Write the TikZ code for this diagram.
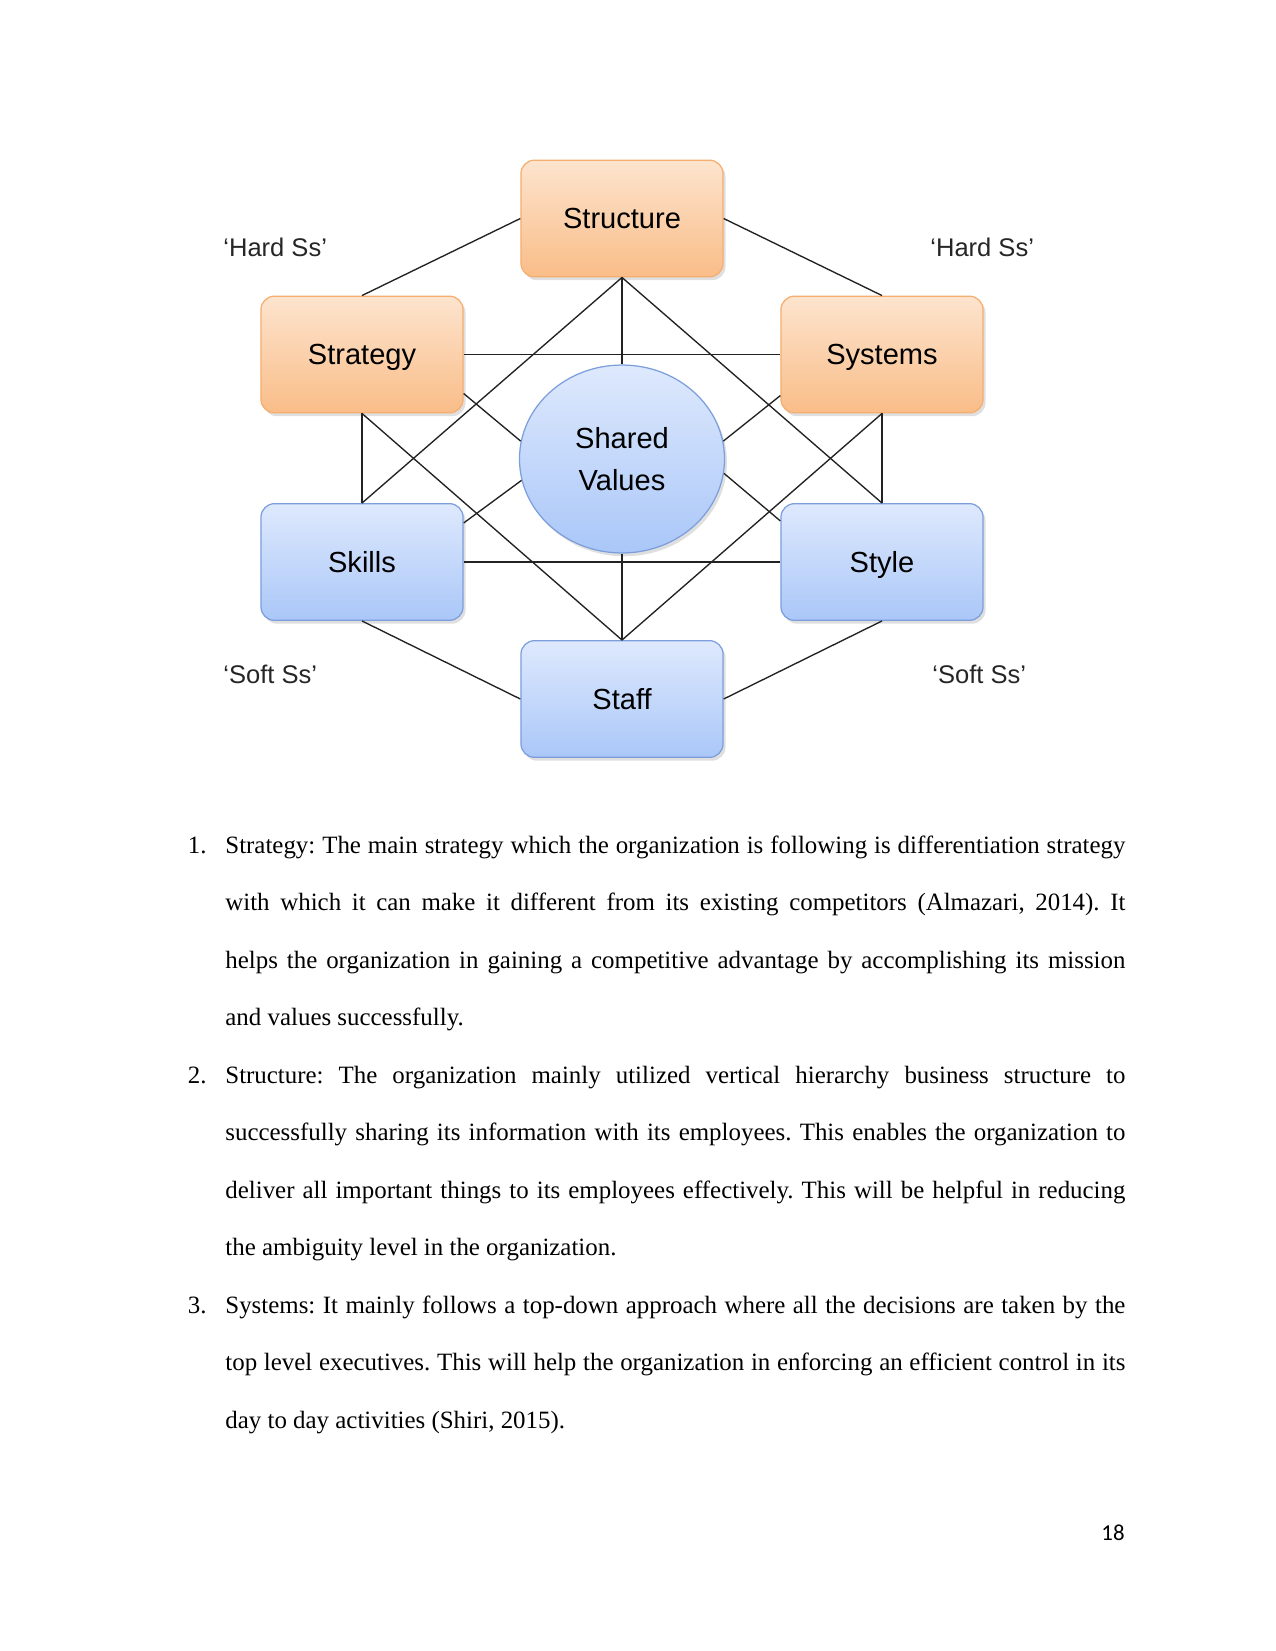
\documentclass[tikz,border=0pt]{standalone}
\usepackage{fontspec}
\setmainfont{Liberation Serif}
\newfontfamily\arialf{Liberation Sans}
\newfontfamily\calibrif{Carlito}
\usetikzlibrary{shapes.geometric,shadows}
\frenchspacing
\definecolor{orTop}{HTML}{FDE4CE}
\definecolor{orBot}{HTML}{F9BD88}
\definecolor{orLine}{HTML}{F5AE70}
\definecolor{blTop}{HTML}{DEE9FD}
\definecolor{blBot}{HTML}{AAC7F8}
\definecolor{blLine}{HTML}{7C9FDC}
\definecolor{lineC}{HTML}{222222}
\tikzset{
  box/.style={rectangle, rounded corners=6.5bp, minimum width=97bp, minimum height=56bp,
    inner sep=0pt, text depth=0pt, font=\arialf\fontsize{14}{16}\selectfont, text=black,
    line width=0.6pt, drop shadow={shadow xshift=1.2bp, shadow yshift=-1.6bp, opacity=0.25}},
  hardbox/.style={box, draw=orLine, top color=orTop, bottom color=orBot},
  softbox/.style={box, draw=blLine, top color=blTop, bottom color=blBot},
  valnode/.style={ellipse, minimum width=98.4bp, minimum height=90.2bp, inner sep=0pt,
    draw=blLine, line width=0.6pt, top color=blTop, bottom color=blBot, align=center,
    font=\arialf\fontsize{14}{20.6}\selectfont, text=black,
    drop shadow={shadow xshift=1.2bp, shadow yshift=-1.6bp, opacity=0.25}},
  grouplabel/.style={anchor=base west, inner sep=0pt, font=\arialf\fontsize{12.3}{14}\selectfont, text=black!85},
  link/.style={draw=lineC, line width=0.65pt},
  bodyline/.style={anchor=base west, inner sep=0pt, font=\fontsize{12}{14}\selectfont},
  numlabel/.style={anchor=base west, inner sep=0pt, font=\fontsize{12}{14}\selectfont}
}
\newcommand{\jline}[1]{\makebox[432bp][s]{#1}}
\begin{document}
\begin{tikzpicture}[x=0.48bp, y=-0.48bp]
\useasboundingbox[fill=white] (0,0) rectangle (1275,1651);

% nodes
\node[hardbox] (struct) at (622,218.5) {Structure};
\node[hardbox] (strat) at (362,354.5) {Strategy};
\node[hardbox] (sys) at (882,354.5) {Systems};
\node[softbox] (skills) at (362,562) {Skills};
\node[softbox] (style) at (882,562) {Style};
\node[softbox] (staff) at (622,699) {Staff};
\node[valnode] (sv) at (622,459) {Shared\\Values};

\node[grouplabel] (hl) at (223,256) {‘Hard Ss’};
\node[grouplabel] (hr) at (930,256) {‘Hard Ss’};
\node[grouplabel] (sl) at (223,683) {‘Soft Ss’};
\node[grouplabel] (sr) at (932,683) {‘Soft Ss’};

\draw[link] (strat.north) -- (struct.west);
\draw[link] (struct.east) -- (sys.north);
\draw[link] (skills.south) -- (staff.west);
\draw[link] (staff.east) -- (style.south);
\draw[link] (struct.south) -- (sv.north);
\draw[link] (sv.south) -- (staff.north);
\draw[link] (strat.east) -- (sys.west);
\draw[link] (skills.east) -- (style.west);
\draw[link] (strat.south) -- (skills.north);
\draw[link] (sys.south) -- (style.north);
\draw[link] (struct.south) -- (skills.north);
\draw[link] (struct.south) -- (style.north);
\draw[link] (strat.south) -- (staff.north);
\draw[link] (sys.south) -- (staff.north);
\draw[link] (strat.-21.8) -- (sv.170.6);
\draw[link] (sys.-158.2) -- (sv.10.5);
\draw[link] (skills.21.1) -- (sv.-168.4);
\draw[link] (style.158.9) -- (sv.-8.9);

% body text
\node[numlabel] (n1) at (187.5,853) {1.};
\node[bodyline] (l1) at (225,853) {\jline{Strategy: The main strategy which the organization is following is differentiation strategy}};
\node[bodyline] (l2) at (225,910.5) {\jline{with which it can make it different from its existing competitors (Almazari, 2014). It}};
\node[bodyline] (l3) at (225,968) {\jline{helps the organization in gaining a competitive advantage by accomplishing its mission}};
\node[bodyline] (l4) at (225,1025.5) {and values successfully.};
\node[numlabel] (n2) at (187.5,1083) {2.};
\node[bodyline] (l5) at (225,1083) {\jline{Structure: The organization mainly utilized vertical hierarchy business structure to}};
\node[bodyline] (l6) at (225,1140.5) {\jline{successfully sharing its information with its employees. This enables the organization to}};
\node[bodyline] (l7) at (225,1198) {\jline{deliver all important things to its employees effectively. This will be helpful in reducing}};
\node[bodyline] (l8) at (225,1255.5) {the ambiguity level in the organization.};
\node[numlabel] (n3) at (187.5,1313) {3.};
\node[bodyline] (l9) at (225,1313) {\jline{Systems: It mainly follows a top-down approach where all the decisions are taken by the}};
\node[bodyline] (l10) at (225,1370.5) {\jline{top level executives. This will help the organization in enforcing an efficient control in its}};
\node[bodyline] (l11) at (225,1428) {day to day activities (Shiri, 2015).};

\node[anchor=base east, inner sep=0pt, font=\calibrif\fontsize{11}{13}\selectfont] (pg) at (1125,1540) {18};
\end{tikzpicture}
\end{document}
